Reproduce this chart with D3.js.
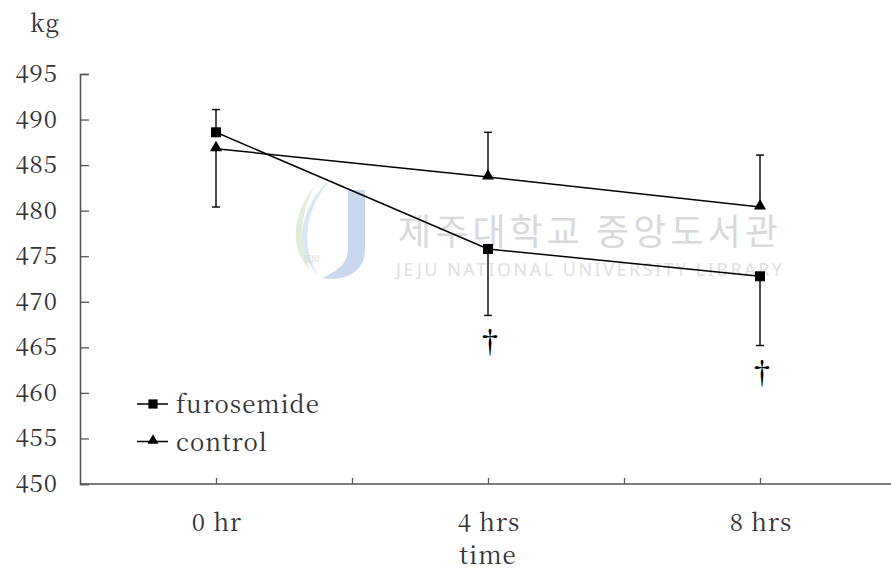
<!DOCTYPE html>
<html>
<head>
<meta charset="utf-8">
<script src="https://cdn.jsdelivr.net/npm/d3@7"></script>
<style>
  body { margin: 0; background: #fff; }
  svg { display: block; }
</style>
</head>
<body>
<div class="Canvas"></div>
<script>
// data (kg)
const hours = [0, 4, 8];
const timeLabels = ['0 hr', '4 hrs', '8 hrs'];
const furosemide = [488.6, 475.8, 472.8];
const furosemideErr = [2.5, -7.3, -7.6];   // sign = direction of the drawn bar
const control = [486.8, 483.7, 480.4];
const controlErr = [-6.4, 4.9, 5.7];
const daggerHours = [4, 8];
const yTicks = [450, 455, 460, 465, 470, 475, 480, 485, 490, 495];
const xTicks = [0, 2, 4, 6, 8];

const width = 891;
const height = 571;
const serif = '"Noto Serif CJK KR", "Liberation Serif", serif';
const textColor = '#333';

const x = d3.scaleLinear().domain([-2, 10]).range([80, 896]);
const y = d3.scaleLinear().domain([450, 495]).range([484, 74]);

const svg = d3.select('.Canvas').append('svg')
  .attr('width', width)
  .attr('height', height);

// faint library watermark behind the plot
const wm = svg.append('g').attr('class', 'watermark');
wm.append('path')
  .attr('d', 'M330,180 C300,205 292,250 318,275 C300,245 305,210 330,180 Z')
  .attr('fill', '#d6e9f2');
wm.append('path')
  .attr('d', 'M316,184 C290,215 290,250 310,270 C298,240 300,212 316,184 Z')
  .attr('fill', '#e2eedb');
wm.append('path')
  .attr('d', 'M348,190 L365,190 L365,250 C365,272 345,282 322,278 C340,270 348,262 348,248 Z')
  .attr('fill', '#c9d8ee');
wm.append('text')
  .attr('x', 312).attr('y', 262)
  .attr('text-anchor', 'middle')
  .attr('font-family', '"Noto Sans", sans-serif')
  .attr('font-size', '8px')
  .attr('fill', '#d5d5d5')
  .text('JEJU');
wm.append('text')
  .attr('x', 398).attr('y', 245)
  .attr('textLength', 380)
  .attr('font-family', '"Noto Sans CJK KR", sans-serif')
  .attr('font-size', '36px')
  .attr('fill', '#d9d9d9')
  .text('제주대학교 중앙도서관');
wm.append('text')
  .attr('x', 396).attr('y', 276)
  .attr('textLength', 386)
  .attr('font-family', '"Noto Sans", sans-serif')
  .attr('font-size', '18px')
  .attr('fill', '#e0e0e0')
  .text('JEJU NATIONAL UNIVERSITY  LIBRARY');

// axes
const axisColor = '#555';
const yAxis = svg.append('g')
  .attr('transform', `translate(${x(-2)},0)`)
  .call(d3.axisRight(y).tickValues(yTicks).tickSize(9).tickFormat(''));
const xAxis = svg.append('g')
  .attr('transform', `translate(0,${y(450)})`)
  .call(d3.axisTop(x).tickValues(xTicks).tickSize(6).tickFormat(''));
[yAxis, xAxis].forEach((a) => {
  a.select('.domain').attr('stroke', axisColor).attr('stroke-width', 1.6);
  a.selectAll('.tick line').attr('stroke', axisColor).attr('stroke-width', 1.3);
});
xAxis.select('.domain').attr('d', `M${x(-2)},0H${width}`);

const label = (sel) => sel
  .attr('font-family', serif)
  .attr('font-size', '24px')
  .attr('letter-spacing', '1px')
  .attr('fill', textColor);

svg.append('g').selectAll('text')
  .data(yTicks)
  .enter()
  .append('text')
  .attr('x', 58)
  .attr('y', (d) => y(d) + 8)
  .attr('text-anchor', 'end')
  .call(label)
  .text((d) => d);

svg.append('g').selectAll('text')
  .data(hours)
  .enter()
  .append('text')
  .attr('x', (d) => x(d) + 1)
  .attr('y', 531)
  .attr('text-anchor', 'middle')
  .call(label)
  .text((d, i) => timeLabels[i]);

svg.append('text')
  .attr('x', x(4))
  .attr('y', 564)
  .attr('text-anchor', 'middle')
  .call(label)
  .text('time');

svg.append('text')
  .attr('x', 30)
  .attr('y', 32)
  .call(label)
  .text('kg');

// series
const series = [
  { name: 'furosemide', values: furosemide, err: furosemideErr, marker: d3.symbolSquare, size: 100 },
  { name: 'control', values: control, err: controlErr, marker: d3.symbolTriangle, size: 62 },
];

const line = d3.line()
  .x((d) => x(d.h))
  .y((d) => y(d.v));

series.forEach((s) => {
  const pts = s.values.map((v, i) => ({ h: hours[i], v: v, e: s.err[i] }));
  const g = svg.append('g').attr('class', s.name);

  g.selectAll('line.err')
    .data(pts)
    .enter()
    .append('line')
    .attr('class', 'err')
    .attr('x1', (d) => x(d.h))
    .attr('x2', (d) => x(d.h))
    .attr('y1', (d) => y(d.v))
    .attr('y2', (d) => y(d.v + d.e))
    .attr('stroke', '#111')
    .attr('stroke-width', 1.5);
  g.selectAll('line.cap')
    .data(pts)
    .enter()
    .append('line')
    .attr('class', 'cap')
    .attr('x1', (d) => x(d.h) - 4)
    .attr('x2', (d) => x(d.h) + 4)
    .attr('y1', (d) => y(d.v + d.e))
    .attr('y2', (d) => y(d.v + d.e))
    .attr('stroke', '#111')
    .attr('stroke-width', 1.5);

  g.append('path')
    .datum(pts)
    .attr('d', line)
    .attr('fill', 'none')
    .attr('stroke', '#000')
    .attr('stroke-width', 1.5);

  g.selectAll('path.marker')
    .data(pts)
    .enter()
    .append('path')
    .attr('class', 'marker')
    .attr('d', d3.symbol().type(s.marker).size(s.size))
    .attr('transform', (d) => `translate(${x(d.h)},${y(d.v) + (s.marker === d3.symbolTriangle ? -1 : 0)})`)
    .attr('fill', '#000');
});

// significance marks under furosemide bars
svg.append('g').selectAll('text')
  .data(daggerHours)
  .enter()
  .append('text')
  .attr('x', (d) => x(d) + 2)
  .attr('y', (d) => {
    const i = hours.indexOf(d);
    return y(furosemide[i] + furosemideErr[i]) + 38;
  })
  .attr('text-anchor', 'middle')
  .attr('font-family', serif)
  .attr('font-size', '30px')
  .attr('fill', '#000')
  .text('\u2020');

// legend
const legend = svg.append('g').selectAll('g')
  .data(series)
  .enter()
  .append('g')
  .attr('transform', (d, i) => `translate(137,${404 + i * 37.5})`);
legend.append('line')
  .attr('x1', 0).attr('x2', 31)
  .attr('stroke', '#000').attr('stroke-width', 1.5);
legend.append('path')
  .attr('d', (d) => d3.symbol().type(d.marker).size(d.size * 0.85)())
  .attr('transform', (d) => `translate(16,${d.marker === d3.symbolTriangle ? -1 : 0})`)
  .attr('fill', '#000');
legend.append('text')
  .attr('x', 39)
  .attr('y', 9)
  .call(label)
  .text((d) => d.name);
</script>
</body>
</html>
